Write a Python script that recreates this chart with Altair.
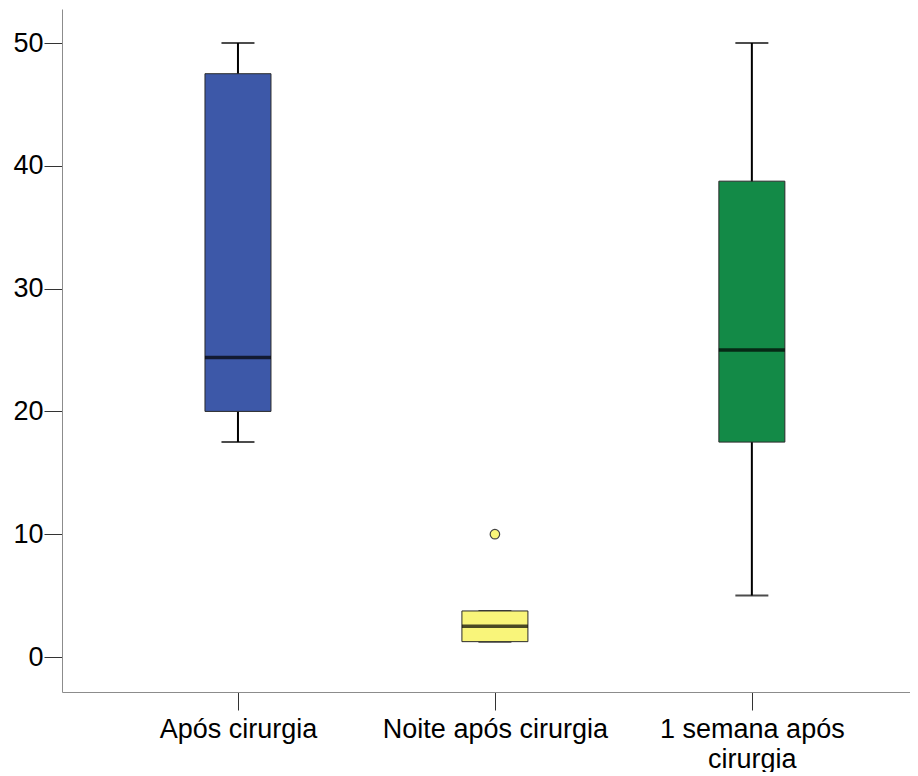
import altair as alt
import pandas as pd

categories = ["Após cirurgia", "Noite após cirurgia", "1 semana após cirurgia"]
label_lines = [["Após cirurgia"], ["Noite após cirurgia"], ["1 semana após", "cirurgia"]]
positions = [1, 2, 3]
mins = [17.5, 1.25, 5.0]
q1s = [20.0, 1.25, 17.5]
medians = [24.4, 2.5, 25.0]
q3s = [47.5, 3.75, 38.75]
maxs = [50.0, 3.75, 50.0]
colors = ["#3d58a8", "#f9f57a", "#138a47"]

outlier_pos = [2]
outlier_vals = [10.0]
outlier_cats = ["Noite após cirurgia"]

df = pd.DataFrame({
    "cat": categories, "pos": positions, "min": mins, "q1": q1s,
    "median": medians, "q3": q3s, "max": maxs,
})
dfo = pd.DataFrame({"cat": outlier_cats, "pos": outlier_pos, "val": outlier_vals})

# label expression from label lists
parts = []
for p, lines in zip(positions, label_lines):
    arr = "[" + ",".join("'" + l + "'" for l in lines) + "]"
    parts.append((p, arr))
expr = parts[-1][1]
for p, arr in reversed(parts[:-1]):
    expr = f"datum.value == {p} ? {arr} : ({expr})"

font = "Liberation Sans"
xscale = alt.Scale(domain=[0.3346, 3.596], nice=False, zero=False)
yscale = alt.Scale(domain=[-2.85, 52.77], nice=False, zero=False)
cscale = alt.Scale(domain=categories, range=colors)

xax = alt.Axis(values=positions, labelExpr=expr, title=None, tickSize=18,
               labelPadding=6, labelLineHeight=30, labelFontSize=27,
               labelFont=font, labelColor="black", domainColor="#8c8c8c",
               tickColor="#333333", grid=False, labelAngle=0, labelLimit=0,
               labelOverlap=False)
yax = alt.Axis(values=[0, 10, 20, 30, 40, 50], title=None, tickSize=18,
               labelPadding=1, labelFontSize=27, labelFont=font,
               labelColor="black", domainColor="#8c8c8c", tickColor="#333333",
               grid=False)

base = alt.Chart(df)
X = alt.X("pos:Q", scale=xscale, axis=xax)

whisker = base.mark_rule(color="black", strokeWidth=2).encode(
    x=X, y=alt.Y("min:Q", scale=yscale, axis=yax), y2="max:Q")
caps_lo = base.mark_tick(orient="horizontal", size=33, thickness=2, color="black").encode(
    x=X, y=alt.Y("min:Q", scale=yscale))
caps_hi = base.mark_tick(orient="horizontal", size=33, thickness=2, color="black").encode(
    x=X, y=alt.Y("max:Q", scale=yscale))
box = base.mark_bar(size=66, stroke="#2a2a2a", strokeWidth=1, opacity=1).encode(
    x=X, y=alt.Y("q1:Q", scale=yscale), y2="q3:Q",
    color=alt.Color("cat:N", scale=cscale, legend=None))
med = base.mark_tick(orient="horizontal", size=66, thickness=3.5, color="black").encode(
    x=X, y=alt.Y("median:Q", scale=yscale))
outl = alt.Chart(dfo).mark_point(shape="circle", filled=True, size=90, stroke="#444444",
                                  strokeWidth=1.2, opacity=1).encode(
    x=X, y=alt.Y("val:Q", scale=yscale),
    fill=alt.Fill("cat:N", scale=cscale, legend=None))

chart = alt.layer(whisker, caps_lo, caps_hi, box, med, outl).properties(
    width=848, height=683,
    padding={"left": 4, "top": 1, "right": 0, "bottom": 0},
).configure_view(stroke=None)

chart.save("out.html", embed_options={"renderer": "svg", "actions": False})
